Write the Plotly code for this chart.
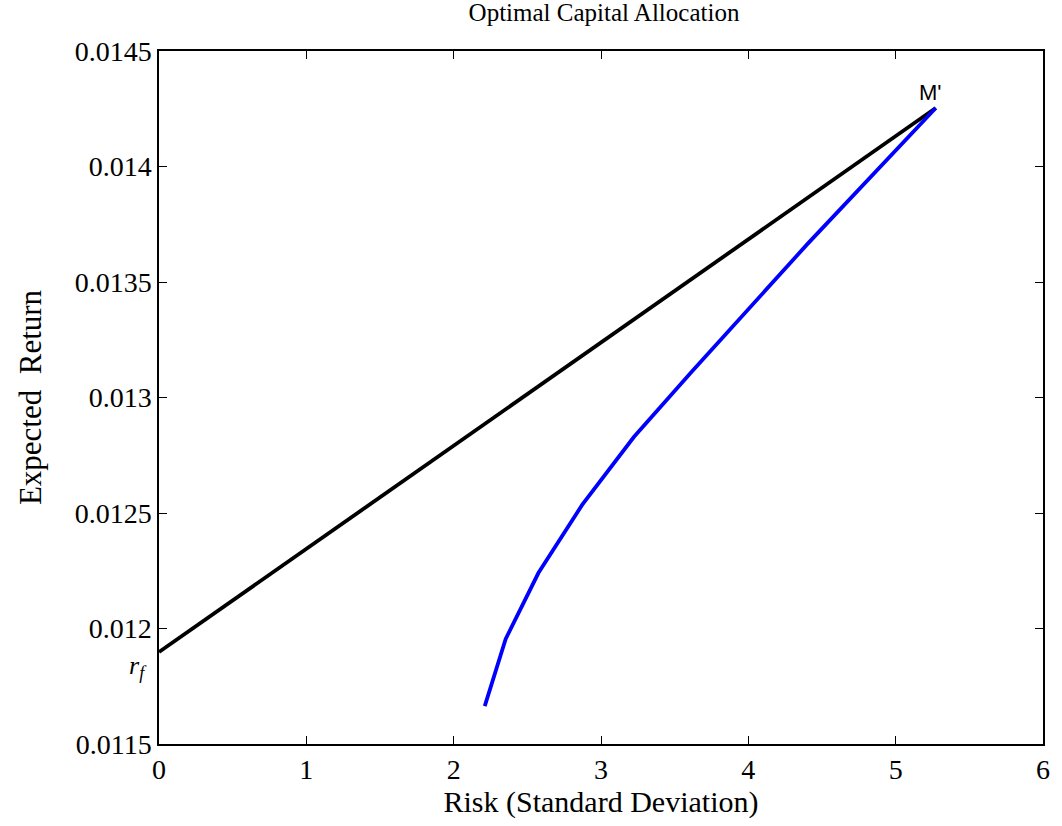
import plotly.graph_objects as go

# Capital allocation line (risk-free asset to tangency portfolio M') - straight line
cal_risk = [0.0, 5.272]
cal_return = [0.011898, 0.014253]

# Efficient frontier (blue)
ef_risk = [2.211, 2.353, 2.575, 2.872, 3.223, 3.614, 4.402, 5.272]
ef_return = [0.011664, 0.011955, 0.012240, 0.012535, 0.012829, 0.013110, 0.013665, 0.014253]

x_ticks = [0, 1, 2, 3, 4, 5, 6]
y_ticks = [0.0115, 0.012, 0.0125, 0.013, 0.0135, 0.014, 0.0145]
y_tick_text = ["0.0115", "0.012", "0.0125", "0.013", "0.0135", "0.014", "0.0145"]

serif = "Liberation Serif, Times New Roman, serif"

fig = go.Figure()
fig.add_trace(go.Scatter(x=cal_risk, y=cal_return, mode="lines",
                         line=dict(color="black", width=3.8), showlegend=False))
fig.add_trace(go.Scatter(x=ef_risk, y=ef_return, mode="lines",
                         line=dict(color="#0000ff", width=3.8), showlegend=False))

fig.add_annotation(x=ef_risk[-1], y=ef_return[-1], text="M'", showarrow=False,
                   xanchor="center", yanchor="bottom", xshift=-5, yshift=1,
                   font=dict(family="Liberation Sans, Arial, sans-serif", size=22, color="black"))
fig.add_annotation(x=0, y=cal_return[0], xref="x", yref="y", text="<i>r<sub>f</sub></i>",
                   showarrow=False, xanchor="right", yanchor="top", xshift=-10, yshift=3,
                   font=dict(family=serif, size=26, color="black"))

axis_common = dict(showgrid=False, zeroline=False, showline=True, linecolor="black",
                   linewidth=1.5, mirror="ticks", ticks="inside", ticklen=8,
                   tickcolor="black", tickwidth=1,
                   tickfont=dict(family=serif, size=28, color="black"))

fig.update_layout(
    width=1062, height=826,
    margin=dict(l=159, r=13, t=51, b=82),
    paper_bgcolor="white", plot_bgcolor="white",
    title=dict(text="Optimal Capital Allocation", x=604 / 1062,
               xanchor="center", y=0.996, yanchor="top",
               font=dict(family=serif, size=25, color="black")),
    xaxis=dict(range=[0, 6], tickvals=x_ticks, ticktext=[str(v) for v in x_ticks],
               title=dict(text="Risk (Standard Deviation)", standoff=5,
                          font=dict(family=serif, size=30, color="black")),
               **axis_common),
    yaxis=dict(range=[0.0115, 0.0145], tickvals=y_ticks, ticktext=y_tick_text,
               title=dict(text="Expected  Return", standoff=24,
                          font=dict(family=serif, size=31, color="black")),
               **axis_common),
)

fig.write_html("out.html")
